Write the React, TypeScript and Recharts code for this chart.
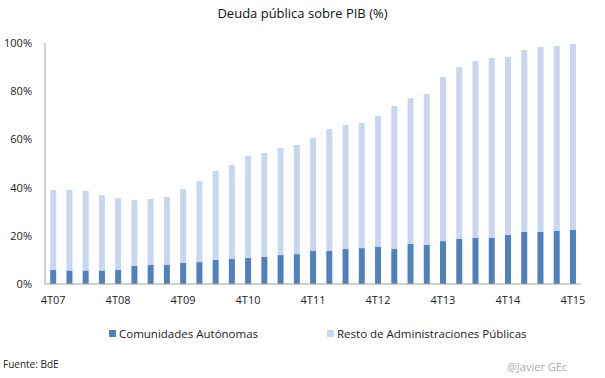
import React from "react";
import { BarChart, Bar, XAxis, YAxis } from "recharts";

const categories = [
  "4T07", "1T08", "2T08", "3T08", "4T08", "1T09", "2T09", "3T09", "4T09",
  "1T10", "2T10", "3T10", "4T10", "1T11", "2T11", "3T11", "4T11",
  "1T12", "2T12", "3T12", "4T12", "1T13", "2T13", "3T13", "4T13",
  "1T14", "2T14", "3T14", "4T14", "1T15", "2T15", "3T15", "4T15",
];

const totalDebt = [
  39.0, 39.0, 38.6, 36.9, 35.7, 34.9, 35.3, 36.1, 39.4,
  42.7, 46.9, 49.4, 53.1, 54.4, 56.4, 57.7, 60.6,
  64.3, 66.0, 66.8, 69.7, 73.9, 77.2, 78.8, 85.9,
  90.0, 92.5, 93.8, 94.2, 97.1, 98.3, 98.8, 99.6,
];

const ccaa = [
  5.8, 5.6, 5.6, 5.6, 5.8, 7.6, 7.9, 7.9, 8.7,
  9.1, 10.0, 10.4, 10.8, 11.2, 12.0, 12.4, 13.7,
  13.8, 14.5, 14.9, 15.4, 14.5, 16.6, 16.2, 17.8,
  18.7, 19.1, 19.1, 20.3, 21.6, 21.6, 22.0, 22.4,
];

const yTicks = [0, 20, 40, 60, 80, 100];

const seriesNames = ["Comunidades Autónomas", "Resto de Administraciones Públicas"];
const seriesColors = ["#4f81bd", "#c6d7ef"];

const data = categories.map((c, i) => ({
  name: c,
  ccaa: ccaa[i],
  resto: +(totalDebt[i] - ccaa[i]).toFixed(1),
}));

const FONT = "'Open Sans', 'Noto Sans', sans-serif";

export default function App() {
  return (
    <div style={{ position: "absolute", left: 0, top: 0, width: 605, height: 378, background: "#fff", fontFamily: FONT }}>
      <div
        style={{
          position: "absolute",
          left: 0,
          top: 4,
          width: 605,
          textAlign: "center",
          fontSize: 13,
          color: "#111",
        }}
      >
        Deuda pública sobre PIB (%)
      </div>
      <BarChart
        width={605}
        height={378}
        data={data}
        margin={{ top: 43, right: 24, left: 0, bottom: 64 }}
        barCategoryGap="32%"
      >
        <XAxis
          dataKey="name"
          height={30}
          interval={3}
          tickLine={false}
          tickSize={6}
          tickMargin={6}
          axisLine={{ stroke: "#a0a0a0" }}
          tick={{ fontSize: 11, fill: "#222", fontFamily: FONT }}
        />
        <YAxis
          width={45}
          domain={[0, 100]}
          ticks={yTicks}
          tickFormatter={(v: number) => `${v}%`}
          tickLine={false}
          tickSize={6}
          tickMargin={7}
          axisLine={{ stroke: "#a0a0a0" }}
          tick={{ fontSize: 11, fill: "#222", fontFamily: FONT }}
        />
        <Bar dataKey="ccaa" name={seriesNames[0]} stackId="a" fill={seriesColors[0]} isAnimationActive={false} />
        <Bar dataKey="resto" name={seriesNames[1]} stackId="a" fill={seriesColors[1]} isAnimationActive={false} />
      </BarChart>
      {seriesNames.map((n, i) => (
        <div
          key={n}
          style={{
            position: "absolute",
            left: i === 0 ? 109 : 327,
            top: 326,
            display: "flex",
            alignItems: "center",
            whiteSpace: "nowrap",
            fontSize: 11.5,
            color: "#222",
          }}
        >
          <span style={{ display: "inline-block", width: 7, height: 7, background: seriesColors[i], marginRight: 3 }} />
          <span>{n}</span>
        </div>
      ))}
      <div style={{ position: "absolute", left: 3, top: 357, fontSize: 10, color: "#222" }}>Fuente: BdE</div>
      <div style={{ position: "absolute", left: 507, top: 359, fontSize: 11, color: "#aaa" }}>@Javier GEc</div>
    </div>
  );
}
